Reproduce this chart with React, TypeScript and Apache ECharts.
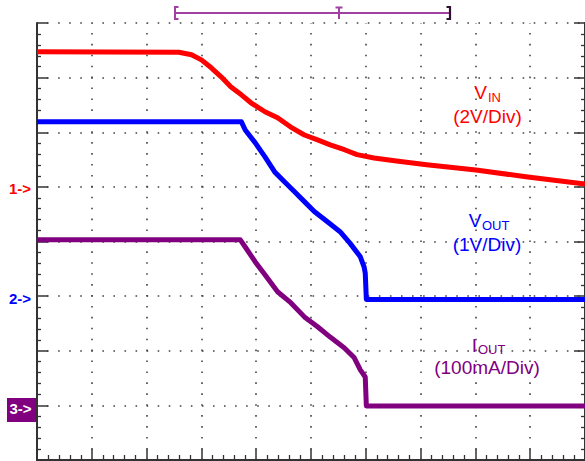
import React, { useEffect, useRef } from "react";
import * as echarts from "echarts";

// time in screen divisions (10 div across)
const VIN_T = [0, 2.59, 2.82, 3.0, 3.18, 3.36, 3.54, 3.73, 3.91, 4.16, 4.39, 4.63, 4.88, 5.12, 5.35, 5.61, 5.84, 6.15, 6.56, 7.11, 8.01, 8.92, 10];
const VIN_V = [4.95, 4.93, 4.84, 4.65, 4.36, 4.03, 3.66, 3.37, 3.07, 2.75, 2.53, 2.19, 1.9, 1.72, 1.54, 1.36, 1.18, 1.06, 0.95, 0.81, 0.62, 0.37, 0.1];

const VOUT_T = [0, 3.73, 3.8, 3.98, 4.16, 4.34, 4.52, 4.7, 4.88, 5.06, 5.3, 5.53, 5.71, 5.9, 5.97, 5.99, 6.01, 10];
const VOUT_V = [3.19, 3.19, 3.04, 2.81, 2.55, 2.27, 2.09, 1.91, 1.73, 1.55, 1.36, 1.18, 0.97, 0.72, 0.53, 0.42, -0.06, -0.06];

const IOUT_T = [0, 3.71, 3.8, 3.98, 4.16, 4.39, 4.63, 4.88, 5.12, 5.35, 5.61, 5.79, 5.9, 5.99, 6.01, 10];
const IOUT_MA = [303, 303, 290, 263, 239, 208, 188, 162, 144, 125, 105, 87, 65, 52, -1, -1];

// channel scales: [min, max] so that ground markers line up with 8 vertical divisions
const CH1_RANGE = [-10, 6]; // 2 V/div, ground at div 5
const CH2_RANGE = [-3, 5]; // 1 V/div, ground at div 3
const CH3_RANGE = [-100, 700]; // 100 mA/div, ground at div 1

const RED = "#ff0000";
const BLUE = "#0000ff";
const PURPLE = "#800080";
const FONT = "'Liberation Sans', Arial, sans-serif";

const zip = (t: number[], v: number[]) => t.map((x, i) => [x, v[i]]);

export default function App() {
  const ref = useRef<HTMLDivElement>(null);
  useEffect(() => {
    document.body.style.margin = "0";
    const chart = echarts.init(ref.current!, null, { renderer: "svg" });
    const tickColor = "#333";
    const baseX = {
      type: "value",
      min: 0,
      max: 10,
      interval: 1,
      axisLabel: { show: false },
      axisLine: { show: true, lineStyle: { color: tickColor, width: 2 } },
      axisTick: { show: true, inside: true, length: 11, lineStyle: { color: tickColor, width: 1.5 } },
      minorTick: { show: true, splitNumber: 5, length: 5, lineStyle: { color: tickColor, width: 1.3 } },
    };
    const baseY = {
      type: "value",
      min: 0,
      max: 8,
      interval: 1,
      axisLabel: { show: false },
      axisLine: { show: true, onZero: false, lineStyle: { color: tickColor, width: 2 } },
      axisTick: { show: true, inside: true, length: 11, lineStyle: { color: tickColor, width: 1.5 } },
      minorTick: { show: true, splitNumber: 5, length: 4, lineStyle: { color: tickColor, width: 1.3 } },
    };
    const lineSeries = (name: string, data: number[][], color: string, yAxisIndex: number) => ({
      name,
      type: "line",
      xAxisIndex: 0,
      yAxisIndex,
      data,
      symbol: "none",
      showSymbol: false,
      lineStyle: { color, width: 5, join: "round" },
      z: 5,
    });
    const txt = (text: string, x: number, y: number, size: number, color: string, align: string, weight = "normal") => ({
      type: "text",
      x,
      y,
      z: 10,
      style: { text, fill: color, fontSize: size, fontFamily: FONT, fontWeight: weight, align, verticalAlign: "middle" },
    });
    const trig = "#a040a0";
    chart.setOption({
      animation: false,
      backgroundColor: "#ffffff",
      grid: { left: 37, top: 23, width: 553, height: 437, containLabel: false },
      xAxis: [
        {
          ...baseX,
          position: "top",
          splitLine: { show: true, lineStyle: { color: "#444", width: 1.6, type: [1.6, 9.32], dashOffset: 0.8 } },
        },
        { ...baseX, position: "bottom", splitLine: { show: false } },
      ],
      yAxis: [
        {
          ...baseY,
          position: "left",
          splitLine: { show: true, lineStyle: { color: "#444", width: 1.6, type: [1.6, 9.46], dashOffset: 0.8 } },
        },
        { ...baseY, position: "right", splitLine: { show: false } },
        { type: "value", show: false, min: CH1_RANGE[0], max: CH1_RANGE[1], splitLine: { show: false } },
        { type: "value", show: false, min: CH2_RANGE[0], max: CH2_RANGE[1], splitLine: { show: false } },
        { type: "value", show: false, min: CH3_RANGE[0], max: CH3_RANGE[1], splitLine: { show: false } },
      ],
      series: [
        lineSeries("VIN", zip(VIN_T, VIN_V), RED, 2),
        lineSeries("VOUT", zip(VOUT_T, VOUT_V), BLUE, 3),
        lineSeries("IOUT", zip(IOUT_T, IOUT_MA), PURPLE, 4),
      ],
      graphic: [
        // trigger / record bar
        { type: "line", shape: { x1: 175, y1: 13, x2: 450, y2: 13 }, style: { stroke: trig, lineWidth: 2 } },
        { type: "polyline", shape: { points: [[178.5, 7], [175, 7], [175, 19], [178.5, 19]] }, style: { stroke: trig, lineWidth: 2, fill: null } },
        { type: "line", shape: { x1: 335.5, y1: 7.5, x2: 342.5, y2: 7.5 }, style: { stroke: trig, lineWidth: 2 } },
        { type: "line", shape: { x1: 339, y1: 7, x2: 339, y2: 19 }, style: { stroke: trig, lineWidth: 2 } },
        { type: "polyline", shape: { points: [[446.5, 7], [450, 7], [450, 19], [446.5, 19]] }, style: { stroke: "#301030", lineWidth: 2.2, fill: null } },
        // channel markers
        txt("1->", 9, 188, 15, RED, "left", "bold"),
        txt("2->", 9, 298, 15, BLUE, "left", "bold"),
        { type: "rect", shape: { x: 7, y: 398, width: 29, height: 24 }, style: { fill: PURPLE }, z: 9 },
        txt("3->", 9.5, 408, 15, "#ffffff", "left", "bold"),
        // channel annotations
        txt("V", 487, 92.5, 19, RED, "right"),
        txt("IN", 488, 97.5, 13, RED, "left"),
        txt("(2V/Div)", 487.5, 116, 19, RED, "center"),
        txt("V", 481.5, 220.5, 19, BLUE, "right"),
        txt("OUT", 482, 225, 13, BLUE, "left"),
        txt("(1V/Div)", 487, 244.5, 19, BLUE, "center"),
        txt("I", 477, 345.5, 19, PURPLE, "right"),
        txt("OUT", 478, 349, 13, PURPLE, "left"),
        txt("(100mA/Div)", 487, 367.5, 19, PURPLE, "center"),
      ],
    });
    return () => chart.dispose();
  }, []);
  return <div ref={ref} style={{ width: 585, height: 461 }} />;
}
